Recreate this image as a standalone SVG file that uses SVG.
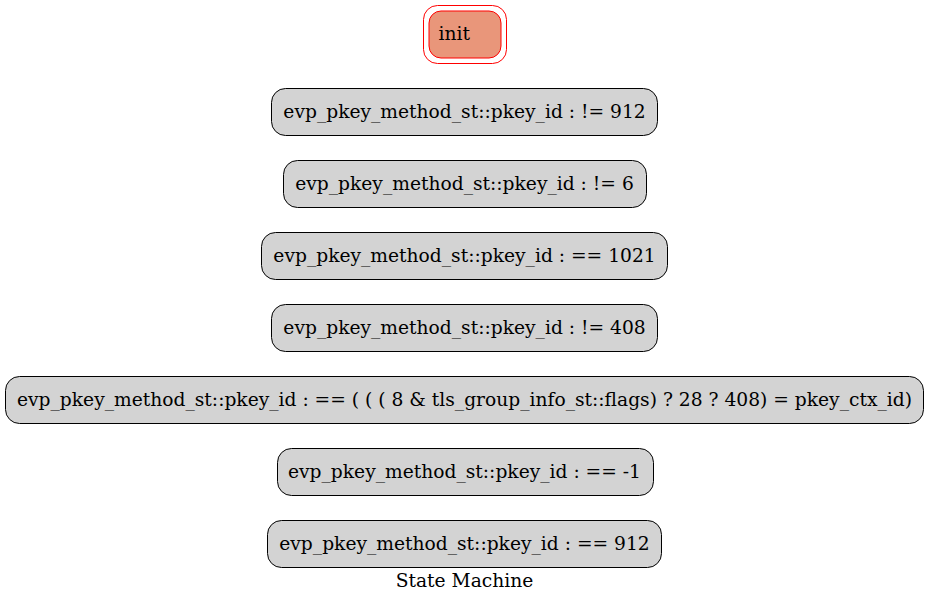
<svg xmlns="http://www.w3.org/2000/svg" width="929" height="604" viewBox="0 0 929 604">
<style>
.n rect{fill:#d3d3d3;stroke:#000;stroke-width:1}
text{font-family:"DejaVu Serif","Liberation Serif",serif;font-size:18.67px;fill:#000;text-anchor:middle}
</style>
<rect x="0" y="0" width="929" height="604" fill="#fff"/>
<g id="init">
<rect x="423.5" y="5.5" width="83" height="58" rx="14" fill="none" stroke="#ff0000"/>
<rect x="429" y="11" width="72" height="47" rx="12" fill="#e9967a" stroke="#ff0000"/>
<text x="438.5" y="40" style="text-anchor:start">init</text>
</g>
<g id="edges"></g>
<g id="s1" class="n"><rect x="271.5" y="88.5" width="386" height="47" rx="14"/><text x="464.5" y="118">evp_pkey_method_st::pkey_id : != 912</text></g>
<g id="s2" class="n"><rect x="283.5" y="160.5" width="363" height="47" rx="14"/><text x="464.5" y="190">evp_pkey_method_st::pkey_id : != 6</text></g>
<g id="s3" class="n"><rect x="261.5" y="232.5" width="406" height="47" rx="14"/><text x="464.5" y="262">evp_pkey_method_st::pkey_id : == 1021</text></g>
<g id="s4" class="n"><rect x="271.5" y="304.5" width="386" height="47" rx="14"/><text x="464.5" y="334">evp_pkey_method_st::pkey_id : != 408</text></g>
<g id="s5" class="n"><rect x="5.5" y="376.5" width="918" height="47" rx="14"/><text x="464.5" y="406">evp_pkey_method_st::pkey_id : == ( ( ( 8 &amp; tls_group_info_st::flags) ? 28 ? 408) = pkey_ctx_id)</text></g>
<g id="s6" class="n"><rect x="277.5" y="448.5" width="376" height="47" rx="14"/><text x="464.5" y="478">evp_pkey_method_st::pkey_id : == -1</text></g>
<g id="s7" class="n"><rect x="267.5" y="520.5" width="394" height="47" rx="14"/><text x="464.5" y="550">evp_pkey_method_st::pkey_id : == 912</text></g>
<text x="464.5" y="587">State Machine</text>
</svg>
